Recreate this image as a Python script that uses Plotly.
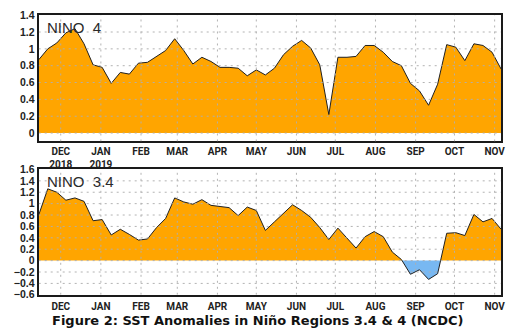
import pandas as pd
import plotly.graph_objects as go

# Weekly SST anomalies (deg C), weeks centred on Wednesdays
week_start = "2018-11-14"
n_weeks = 52

nino4 = [0.87, 1.00, 1.07, 1.19, 1.24, 1.06, 0.81, 0.78, 0.59, 0.72,
         0.70, 0.83, 0.84, 0.91, 0.98, 1.12, 0.98, 0.82, 0.90, 0.85,
         0.78, 0.78, 0.77, 0.68, 0.75, 0.69, 0.77, 0.93, 1.03, 1.10,
         1.01, 0.81, 0.22, 0.90, 0.90, 0.91, 1.04, 1.04, 0.96, 0.85,
         0.80, 0.59, 0.50, 0.33, 0.58, 1.05, 1.02, 0.86, 1.06, 1.04,
         0.96, 0.76]

nino34 = [0.80, 1.26, 1.20, 1.06, 1.10, 1.04, 0.70, 0.72, 0.45, 0.55,
          0.46, 0.36, 0.38, 0.58, 0.74, 1.10, 1.03, 0.99, 1.07, 0.97,
          0.95, 0.93, 0.79, 0.94, 0.88, 0.53, 0.68, 0.83, 0.98, 0.88,
          0.76, 0.58, 0.37, 0.57, 0.40, 0.22, 0.42, 0.51, 0.42, 0.15,
          0.02, -0.24, -0.16, -0.33, -0.23, 0.48, 0.49, 0.44, 0.81, 0.68,
          0.74, 0.55]

month_starts = ["2018-12-01", "2019-01-01", "2019-02-01", "2019-03-01",
                "2019-04-01", "2019-05-01", "2019-06-01", "2019-07-01",
                "2019-08-01", "2019-09-01", "2019-10-01", "2019-11-01"]
month_labels = ["DEC", "JAN", "FEB", "MAR", "APR", "MAY", "JUN", "JUL",
                "AUG", "SEP", "OCT", "NOV"]
top_month_text = ["DEC<br>2018", "JAN<br>2019"] + month_labels[2:]

nino4_ticks = [0, 0.2, 0.4, 0.6, 0.8, 1.0, 1.2, 1.4]
nino4_ticktext = ["0", "0.2", "0.4", "0.6", "0.8", "1", "1.2", "1.4"]
nino34_ticks = [-0.6, -0.4, -0.2, 0, 0.2, 0.4, 0.6, 0.8, 1.0, 1.2, 1.4, 1.6]
nino34_ticktext = ["\u22120.6", "\u22120.4", "\u22120.2", "0", "0.2", "0.4",
                   "0.6", "0.8", "1", "1.2", "1.4", "1.6"]

dates = pd.date_range(week_start, periods=n_weeks, freq="7D")
x_range = [dates[0], dates[-1]]

W, H = 519, 336
WARM = "#FFA500"
COOL = "#78B8F2"
GRID = "rgba(175,175,175,0.95)"
FRAME = "#1a1a1a"


def split_at_zero(t, v):
    """Insert zero crossings so positive/negative parts fill cleanly."""
    xs, ys = [t[0]], [v[0]]
    for i in range(1, len(v)):
        a, b = v[i - 1], v[i]
        if (a > 0 and b < 0) or (a < 0 and b > 0):
            frac = a / (a - b)
            xs.append(t[i - 1] + (t[i] - t[i - 1]) * frac)
            ys.append(0.0)
        xs.append(t[i])
        ys.append(b)
    return xs, ys


def px_x(p):
    return p / W


def px_y(p):
    return 1 - p / H


panels = [
    dict(vals=nino4, xa="x", ya="y", dom=(px_y(140.5), px_y(9.5)),
         yr=[-0.1, 1.4], yt=nino4_ticks, ytt=nino4_ticktext,
         xt=top_month_text, title="NINO\u00a0\u00a04", ty=22, standoff=0),
    dict(vals=nino34, xa="x2", ya="y2", dom=(px_y(299.5), px_y(169.5)),
         yr=[-0.6, 1.6], yt=nino34_ticks, ytt=nino34_ticktext,
         xt=month_labels, title="NINO\u00a0\u00a03.4", ty=182, standoff=1),
]

fig = go.Figure()
shapes = []
annotations = []
xdom = [px_x(39), px_x(505)]
tick_font = dict(family="Liberation Sans Narrow, Roboto, Liberation Sans, sans-serif",
                 size=10, color="#222", weight="bold")
ytick_font = dict(family="Liberation Sans, Arial, sans-serif", size=10.5,
                  color="#222", weight="bold")

for k, p in enumerate(panels):
    xs, ys = split_at_zero(list(dates), p["vals"])
    fig.add_trace(go.Scatter(x=xs, y=[max(v, 0) for v in ys], xaxis=p["xa"], yaxis=p["ya"],
                             mode="lines", line=dict(width=0), fill="tozeroy",
                             fillcolor=WARM, hoverinfo="skip", showlegend=False))
    fig.add_trace(go.Scatter(x=xs, y=[min(v, 0) for v in ys], xaxis=p["xa"], yaxis=p["ya"],
                             mode="lines", line=dict(width=0), fill="tozeroy",
                             fillcolor=COOL, hoverinfo="skip", showlegend=False))
    fig.add_trace(go.Scatter(x=dates, y=p["vals"], xaxis=p["xa"], yaxis=p["ya"],
                             mode="lines", line=dict(color="#202020", width=1),
                             showlegend=False))

    # dotted grid drawn over the filled area
    for m in month_starts:
        shapes.append(dict(type="line", xref=p["xa"], yref=p["ya"], x0=m, x1=m,
                           y0=p["yr"][0], y1=p["yr"][1], layer="above",
                           line=dict(color=GRID, width=1, dash="2px,4px")))
    for yv in p["yt"]:
        if yv in (p["yr"][0], p["yr"][1]):
            continue
        shapes.append(dict(type="line", xref=p["xa"], yref=p["ya"], x0=x_range[0],
                           x1=x_range[1], y0=yv, y1=yv, layer="above",
                           line=dict(color=GRID, width=1, dash="2px,4px")))

    axis_x = dict(domain=xdom, range=x_range, tickmode="array", tickvals=month_starts,
                  ticktext=p["xt"], showgrid=False, zeroline=False, showline=True,
                  mirror=True, linecolor=FRAME, linewidth=2, ticks="", tickfont=tick_font,
                  ticklabelstandoff=p["standoff"], anchor=p["ya"])
    axis_y = dict(domain=list(p["dom"]), range=p["yr"], tickmode="array", tickvals=p["yt"],
                  ticktext=p["ytt"], showgrid=False, zeroline=False, showline=True,
                  mirror=True, linecolor=FRAME, linewidth=2, ticks="", tickfont=ytick_font,
                  anchor=p["xa"])
    suffix = "" if k == 0 else "2"
    fig.update_layout(**{"xaxis" + suffix: axis_x, "yaxis" + suffix: axis_y})

    annotations.append(dict(text=p["title"], xref="paper", yref="paper",
                            x=px_x(45), y=px_y(p["ty"]), xanchor="left", yanchor="middle",
                            showarrow=False,
                            font=dict(family="Liberation Sans, Arial, sans-serif",
                                      size=15, color="#2a2a2a")))

annotations.append(dict(text="Figure 2: SST Anomalies in Niño Regions 3.4 &amp; 4 (NCDC)",
                        xref="paper", yref="paper", x=0.5, y=px_y(326.5),
                        xanchor="center", yanchor="middle", showarrow=False,
                        font=dict(family="DejaVu Sans, sans-serif", size=13,
                                  color="#111", weight="bold")))

fig.update_layout(width=W, height=H, margin=dict(l=0, r=0, t=0, b=0),
                  paper_bgcolor="white", plot_bgcolor="white",
                  shapes=shapes, annotations=annotations)

fig.write_html("out.html")
